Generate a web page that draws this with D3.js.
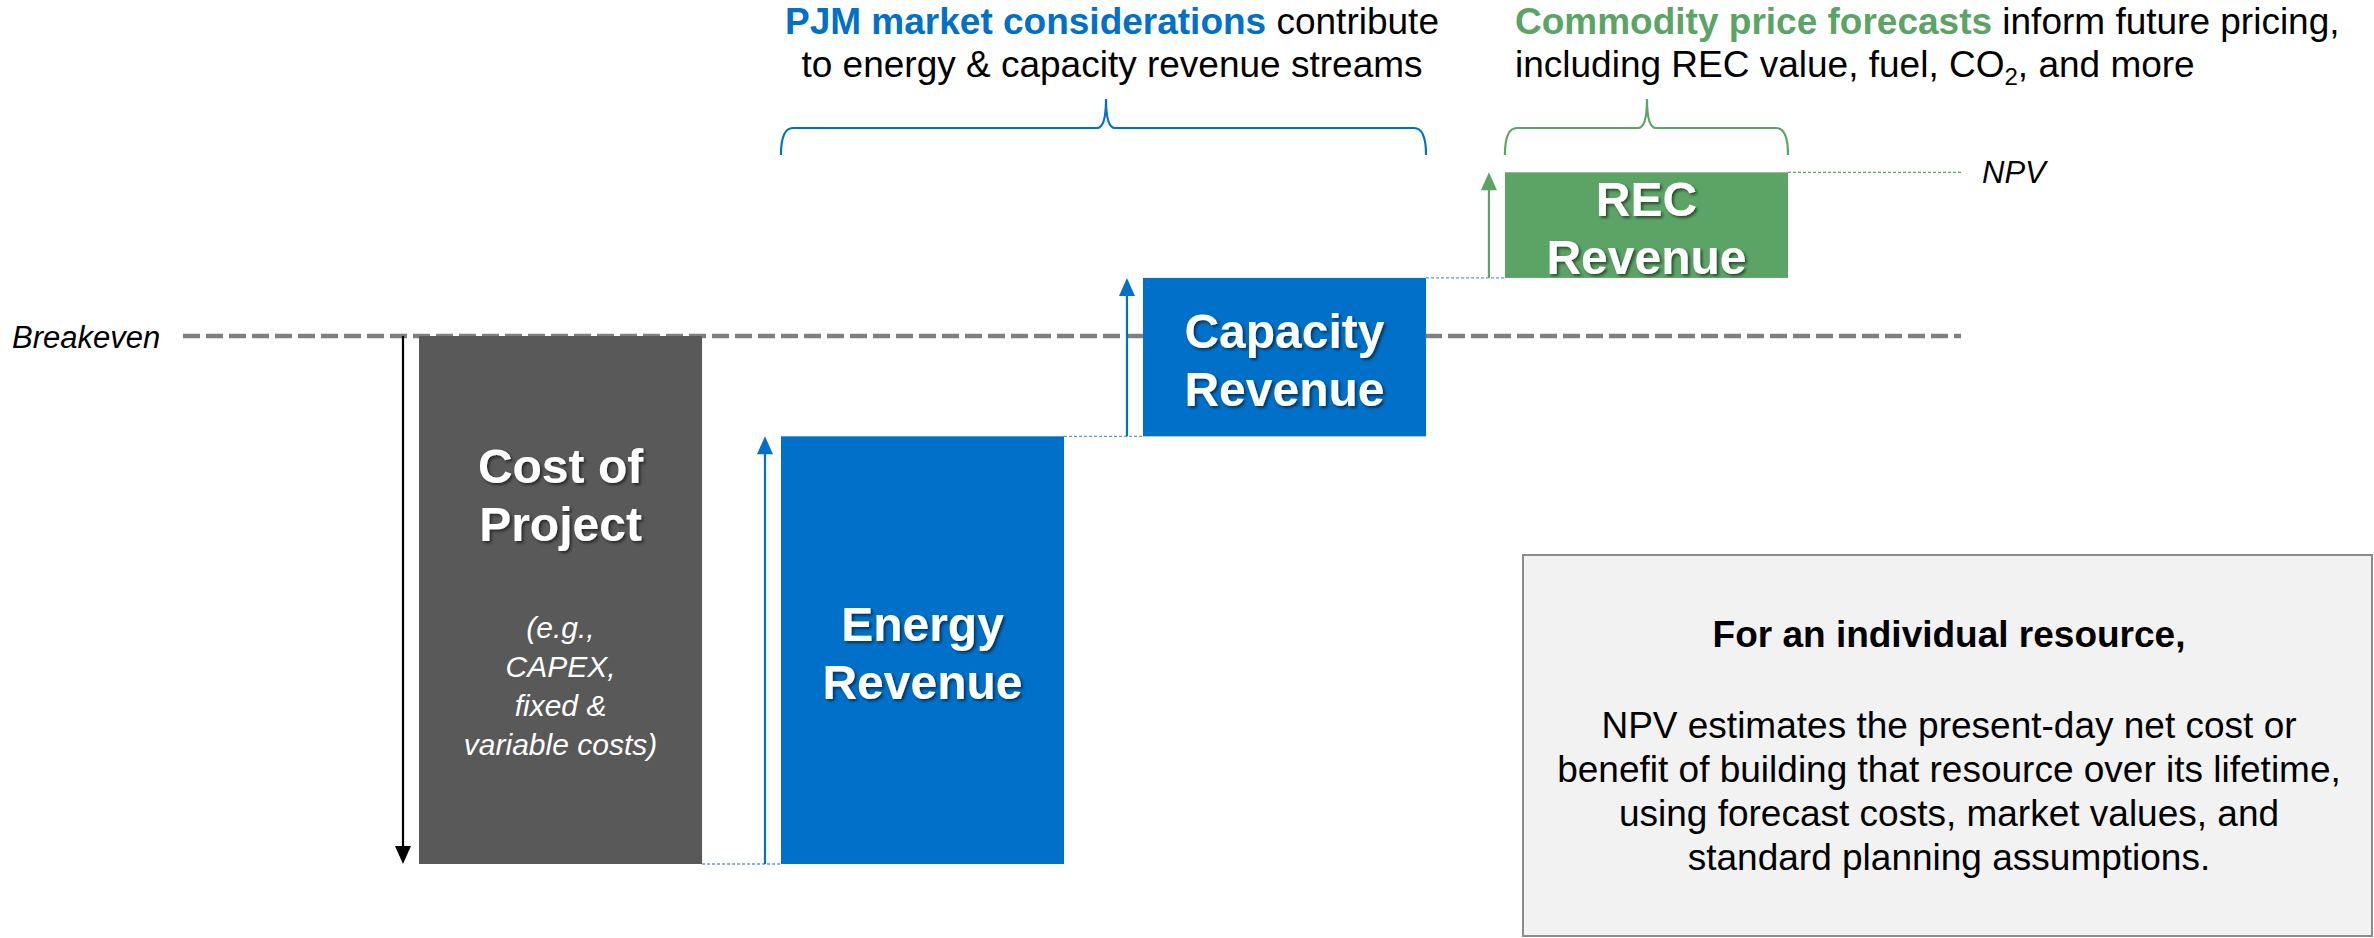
<!DOCTYPE html>
<html>
<head>
<meta charset="utf-8">
<script src="https://cdn.jsdelivr.net/npm/d3@7"></script>
<style>
  html, body { margin: 0; padding: 0; background: #fff; }
  svg { display: block; font-family: "Liberation Sans", Arial, sans-serif; }
</style>
</head>
<body>
<svg id="chart"></svg>
<script>
// pasos del waterfall
var steps = ["Cost of Project", "Energy Revenue", "Capacity Revenue", "REC Revenue"];
var amounts = [-100, 81, 30, 20];
var barLabels = [["Cost of", "Project"], ["Energy", "Revenue"], ["Capacity", "Revenue"], ["REC", "Revenue"]];
var costNote = ["(e.g.,", "CAPEX,", "fixed &", "variable costs)"];
var barColors = ["#595959", "#0070c8", "#0070c8", "#5ba466"];
var arrowColors = ["#000000", "#0070c8", "#0070c8", "#5ba466"];

var w = 2374, h = 938;
var svg = d3.select("#chart").attr("width", w).attr("height", h);

var defs = svg.append("defs");
var f = defs.append("filter").attr("id", "sombra")
  .attr("x", "-10%").attr("y", "-10%").attr("width", "130%").attr("height", "140%");
f.append("feDropShadow").attr("dx", 2).attr("dy", 2).attr("stdDeviation", 1.5)
  .attr("flood-color", "#000").attr("flood-opacity", 0.55);

var x = d3.scaleBand().domain(steps).range([419, 1788]).paddingInner(0.218).paddingOuter(0);
var y = d3.scaleLinear().domain([-100, 0]).range([864, 336]);

// acumulados
var datos = [];
var acum = 0;
steps.forEach(function(s, i) {
  var ini = acum;
  acum += amounts[i];
  datos.push({ step: s, ini: ini, fin: acum, i: i });
});
var npv = acum;

// linea breakeven
svg.append("line")
  .attr("x1", 183).attr("x2", 1961)
  .attr("y1", y(0)).attr("y2", y(0))
  .attr("stroke", "#808080").attr("stroke-width", 4.5)
  .attr("stroke-dasharray", "17,6");

svg.append("text")
  .attr("x", 12).attr("y", y(0) + 12)
  .attr("font-size", 31).attr("font-style", "italic")
  .text("Breakeven");

// barras
svg.append("g").selectAll("rect").data(datos).enter().append("rect")
  .attr("x", function(d) { return x(d.step); })
  .attr("width", x.bandwidth())
  .attr("y", function(d) { return y(Math.max(d.ini, d.fin)); })
  .attr("height", function(d) { return Math.abs(y(d.ini) - y(d.fin)); })
  .attr("fill", function(d) { return barColors[d.i]; });

// conectores punteados
svg.append("g").selectAll("line").data(datos.slice(0, -1)).enter().append("line")
  .attr("x1", function(d) { return x(d.step) + x.bandwidth(); })
  .attr("x2", function(d) { return x(steps[d.i + 1]); })
  .attr("y1", function(d) { return y(d.fin); })
  .attr("y2", function(d) { return y(d.fin); })
  .attr("stroke", "#5b9bd5").attr("stroke-width", 1.3)
  .attr("stroke-dasharray", "3,2");

svg.append("line")
  .attr("x1", x(steps[3]) + x.bandwidth()).attr("x2", 1961)
  .attr("y1", y(npv)).attr("y2", y(npv))
  .attr("stroke", "#5ba466").attr("stroke-width", 1.3)
  .attr("stroke-dasharray", "3,2");

svg.append("text")
  .attr("x", 1982).attr("y", y(npv) + 11)
  .attr("font-size", 31).attr("font-style", "italic")
  .text("NPV");

// flechas
var flechas = svg.append("g").selectAll("g").data(datos).enter().append("g");
flechas.append("line")
  .attr("x1", function(d) { return x(d.step) - 16; })
  .attr("x2", function(d) { return x(d.step) - 16; })
  .attr("y1", function(d) { return y(d.ini); })
  .attr("y2", function(d) { return y(d.fin) + (d.fin > d.ini ? 14 : -14); })
  .attr("stroke", function(d) { return arrowColors[d.i]; })
  .attr("stroke-width", 2.2);
flechas.append("path")
  .attr("d", function(d) {
    var ax = x(d.step) - 16, ay = y(d.fin), s = d.fin > d.ini ? 1 : -1;
    return "M" + ax + "," + ay + "L" + (ax - 8) + "," + (ay + s * 18) + "L" + (ax + 8) + "," + (ay + s * 18) + "Z";
  })
  .attr("fill", function(d) { return arrowColors[d.i]; });

// textos de barras
var etiquetas = svg.append("g").attr("fill", "#fff").attr("text-anchor", "middle");
datos.forEach(function(d) {
  var cx = x(d.step) + x.bandwidth() / 2;
  var cy = (y(d.ini) + y(d.fin)) / 2;
  var lineas = barLabels[d.i];
  var top = d.i === 0 ? cy - 134 : cy - 26;
  lineas.forEach(function(t, k) {
    etiquetas.append("text")
      .attr("x", cx).attr("y", top + k * 58 + 17)
      .attr("font-size", 48).attr("font-weight", "bold")
      .attr("filter", "url(#sombra)")
      .text(t);
  });
  if (d.i === 0) {
    costNote.forEach(function(t, k) {
      etiquetas.append("text")
        .attr("x", cx).attr("y", cy + 28 + k * 39 + 10)
        .attr("font-size", 30).attr("font-style", "italic")
        .text(t);
    });
  }
});

// llaves
function llave(x0, x1, xm, color) {
  var yb = 155, yh = 128, yt = 99;
  var p = "M" + x0 + "," + yb +
    "Q" + x0 + "," + yh + " " + (x0 + 12) + "," + yh +
    "L" + (xm - 9) + "," + yh +
    "Q" + xm + "," + yh + " " + xm + "," + yt +
    "Q" + xm + "," + yh + " " + (xm + 9) + "," + yh +
    "L" + (x1 - 12) + "," + yh +
    "Q" + x1 + "," + yh + " " + x1 + "," + yb;
  svg.append("path").attr("d", p).attr("fill", "none")
    .attr("stroke", color).attr("stroke-width", 2.2);
}
llave(x(steps[1]), x(steps[2]) + x.bandwidth(), 1106, "#0070c8");
llave(x(steps[3]), x(steps[3]) + x.bandwidth(), 1647, "#5ba466");

// texto superior azul
var t1 = svg.append("text").attr("x", 1112).attr("y", 34)
  .attr("font-size", 37).attr("text-anchor", "middle");
t1.append("tspan").attr("fill", "#0070c8").attr("font-weight", "bold").text("PJM market considerations");
t1.append("tspan").text(" contribute");
svg.append("text").attr("x", 1112).attr("y", 77)
  .attr("font-size", 37).attr("text-anchor", "middle")
  .text("to energy & capacity revenue streams");

// texto superior verde
var t2 = svg.append("text").attr("x", 1515).attr("y", 34).attr("font-size", 37);
t2.append("tspan").attr("fill", "#5ba466").attr("font-weight", "bold").text("Commodity price forecasts");
t2.append("tspan").text(" inform future pricing,");
var t3 = svg.append("text").attr("x", 1515).attr("y", 77).attr("font-size", 37);
t3.append("tspan").text("including REC value, fuel, CO");
t3.append("tspan").attr("font-size", 24).attr("dy", 8).text("2");
t3.append("tspan").attr("dy", -8).text(", and more");

// recuadro
svg.append("rect")
  .attr("x", 1523).attr("y", 555).attr("width", 849).attr("height", 381)
  .attr("fill", "#f2f2f2").attr("stroke", "#8c8c8c").attr("stroke-width", 2);

var caja = svg.append("g").attr("text-anchor", "middle");
caja.append("text").attr("x", 1949).attr("y", 647)
  .attr("font-size", 37).attr("font-weight", "bold")
  .text("For an individual resource,");
var cajaLineas = ["NPV estimates the present-day net cost or",
  "benefit of building that resource over its lifetime,",
  "using forecast costs, market values, and",
  "standard planning assumptions."];
cajaLineas.forEach(function(t, k) {
  caja.append("text").attr("x", 1949).attr("y", 738 + k * 44)
    .attr("font-size", 37).text(t);
});
</script>
</body>
</html>
